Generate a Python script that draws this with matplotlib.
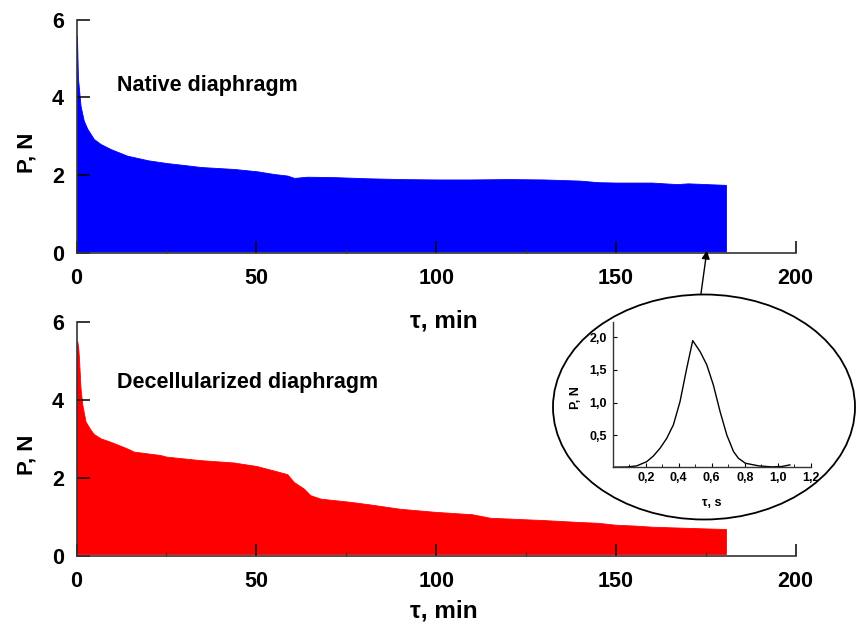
import matplotlib
matplotlib.use("Agg")
import matplotlib.pyplot as plt
from matplotlib.patches import Ellipse
from matplotlib.ticker import FixedLocator

plt.rcParams['font.family'] = ['Liberation Sans', 'DejaVu Sans']
plt.rcParams['font.weight'] = 'bold'

# Upper envelope of the force record, native diaphragm (P, N vs tau, min)
t_native = [0, 0.1, 0.37, 1.1, 2.0, 3.0, 4.8, 6.7, 9.5, 14.1, 20, 25.2, 30, 34.5,
            43.7, 50.2, 54.9, 58.6, 60.5, 64.2, 71.6, 80.9, 90, 100, 110, 120,
            130, 140, 145, 150, 160, 167, 170, 180.6]
p_native = [4.0, 5.58, 4.5, 3.78, 3.40, 3.19, 2.93, 2.80, 2.67, 2.50, 2.38, 2.31, 2.26, 2.21,
            2.16, 2.10, 2.03, 1.99, 1.93, 1.96, 1.95, 1.92, 1.90, 1.89, 1.89, 1.90,
            1.89, 1.86, 1.82, 1.81, 1.81, 1.77, 1.79, 1.75]

# Upper envelope, decellularized diaphragm
t_decell = [0, 0.2, 0.46, 0.65, 1.1, 1.6, 2.5, 3.9, 4.8, 6.7, 9.5, 14.1, 15.9, 23.4,
            25, 34.5, 43.7, 50, 55, 58.6, 60.4, 63.2, 65, 67.9, 76, 81, 90, 100,
            110, 115, 120, 130, 140, 145, 150, 155, 160, 170, 180.6]
p_decell = [4.5, 5.5, 5.34, 5.08, 4.3, 3.87, 3.44, 3.23, 3.12, 3.01, 2.92, 2.75, 2.67, 2.58,
            2.54, 2.45, 2.39, 2.30, 2.18, 2.09, 1.89, 1.72, 1.55, 1.46, 1.38, 1.32, 1.20, 1.12,
            1.06, 0.97, 0.95, 0.91, 0.86, 0.84, 0.79, 0.77, 0.74, 0.71, 0.68]

floor_level = 0.04

# Single contraction (inset), P, N vs tau, s
t_single = [0.0, 0.085, 0.146, 0.206, 0.246, 0.287, 0.327, 0.368, 0.408, 0.449, 0.485,
            0.53, 0.57, 0.61, 0.651, 0.692, 0.732, 0.762, 0.804, 0.884, 0.964,
            1.024, 1.074]
p_single = [0.01, 0.012, 0.03, 0.094, 0.18, 0.30, 0.45, 0.66, 1.015, 1.53, 1.95,
            1.78, 1.58, 1.27, 0.86, 0.50, 0.25, 0.146, 0.07, 0.03, 0.014,
            0.02, 0.045]

x_ticks = [0, 50, 100, 150, 200]
y_ticks = [0, 2, 4, 6]
inset_xticks = [0.2, 0.4, 0.6, 0.8, 1.0, 1.2]
inset_xlabels = ['0,2', '0,4', '0,6', '0,8', '1,0', '1,2']
inset_yticks = [0.5, 1.0, 1.5, 2.0]
inset_ylabels = ['0,5', '1,0', '1,5', '2,0']

W, H = 859, 634
fig = plt.figure(figsize=(W / 100, H / 100), dpi=100)

def fx(px):
    return px / W

def fy(py):
    return (H - py) / H

spine_col = '#333333'

def style_main(ax):
    ax.set_xlim(0, 200)
    ax.set_ylim(0, 6)
    ax.patch.set_visible(False)
    ax.spines['top'].set_visible(False)
    ax.spines['right'].set_visible(False)
    for s in ('left', 'bottom'):
        ax.spines[s].set_color(spine_col)
        ax.spines[s].set_linewidth(1.2)
    ax.set_xticks(x_ticks)
    ax.set_yticks(y_ticks)
    ax.xaxis.set_minor_locator(FixedLocator([25, 75, 125, 175]))
    ax.tick_params(axis='both', which='major', direction='in', length=9, width=1.1,
                   color='black', labelsize=15.5)
    ax.tick_params(axis='x', which='major', pad=11)
    ax.tick_params(axis='y', which='major', pad=9)
    ax.tick_params(axis='x', which='minor', direction='in', length=3, width=0.8, color=spine_col)
    ax.tick_params(axis='y', which='minor', left=False)
    for lbl in ax.get_xticklabels() + ax.get_yticklabels():
        lbl.set_fontweight('bold')
    ax.set_ylabel('P, N', fontsize=16, fontweight='bold')
    ax.yaxis.set_label_coords(-0.055, 0.43)

left = fx(76.6)
width = fx(795.7) - fx(76.6)
lab_x = (444 - 76.6) / (795.7 - 76.6)

ax1 = fig.add_axes([left, fy(253), width, fy(19.5) - fy(253)])
ax1.fill_between(t_native, floor_level, p_native, color='#0000ff', linewidth=0.6, edgecolor='#0000ff')
style_main(ax1)
ax1.set_xlabel('τ, min', fontsize=17.5, fontweight='bold')
ax1.xaxis.set_label_coords(lab_x, -0.24)
ax1.text(36.5, 4.3, 'Native diaphragm', fontsize=15.5, fontweight='bold', ha='center', va='center')

ax2 = fig.add_axes([left, fy(555.5), width, fy(322) - fy(555.5)])
ax2.fill_between(t_decell, floor_level, p_decell, color='#ff0000', linewidth=0.6, edgecolor='#ff0000')
style_main(ax2)
ax2.set_xlabel('τ, min', fontsize=17.5, fontweight='bold')
ax2.xaxis.set_label_coords(lab_x, -0.19)
ax2.text(47.5, 4.44, 'Decellularized diaphragm', fontsize=15.5, fontweight='bold', ha='center', va='center')

# Ellipse around the inset
ell = Ellipse((fx(704), fy(407)), width=302 / W, height=225 / H, transform=fig.transFigure,
              facecolor='white', edgecolor='black', linewidth=1.3, zorder=2)
fig.add_artist(ell)

# Inset axes
axi = fig.add_axes([fx(612.7), fy(466.7), fx(810.7) - fx(612.7), fy(321.7) - fy(466.7)], zorder=3)
axi.patch.set_alpha(0)
axi.plot(t_single, p_single, color='black', linewidth=1.0)
axi.set_xlim(0, 1.2)
axi.set_ylim(0.017, 2.24)
axi.spines['top'].set_visible(False)
axi.spines['right'].set_visible(False)
for s in ('left', 'bottom'):
    axi.spines[s].set_color(spine_col)
    axi.spines[s].set_linewidth(1.0)
axi.set_xticks(inset_xticks)
axi.set_xticklabels(inset_xlabels, fontsize=9, fontweight='bold')
axi.set_yticks(inset_yticks)
axi.set_yticklabels(inset_ylabels, fontsize=9, fontweight='bold')
axi.xaxis.set_minor_locator(FixedLocator([0.1, 0.3, 0.5, 0.7, 0.9, 1.1]))
axi.tick_params(axis='both', which='major', direction='in', length=3, width=0.8, pad=4)
axi.tick_params(axis='x', which='minor', direction='in', length=2, width=0.6)
axi.set_xlabel('τ, s', fontsize=9, fontweight='bold', labelpad=9)
axi.set_ylabel('P, N', fontsize=9, fontweight='bold')
axi.yaxis.set_label_coords(-0.153, 0.48)

# Arrow from the ellipse to the trace
ax1.annotate('', xy=(175.3, 0.06), xycoords='data',
             xytext=(fx(700), fy(300.7)), textcoords='figure fraction',
             arrowprops=dict(arrowstyle='-|>', color='black', lw=1.0, mutation_scale=12,
                             shrinkA=0, shrinkB=0),
             annotation_clip=False)

fig.savefig('out.png', dpi=100)
